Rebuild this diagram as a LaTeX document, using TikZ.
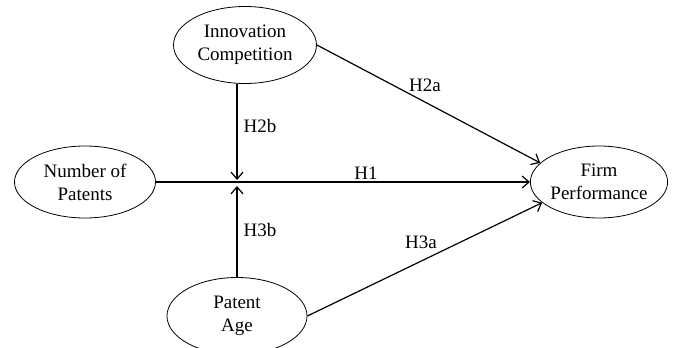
\documentclass[tikz,border=0pt]{standalone}
\usepackage{fontspec}
\setmainfont{Liberation Serif}
\usetikzlibrary{arrows.meta,shapes.geometric}

\begin{document}
\begin{tikzpicture}[
  x=1pt, y=-1pt,
  every node/.style={font=\fontsize{19}{23}\selectfont},
  construct/.style={
    draw, ellipse, line width=0.8pt, align=center, inner sep=0pt
  },
  hyp/.style={inner sep=1pt},
  arr/.style={-{Straight Barb[length=7pt,width=12pt]}, line width=1.2pt}
]
  \useasboundingbox (0,0) rectangle (673,348);

  \node[construct, minimum width=143pt, minimum height=77pt] (innov) at (245,45)  {Innovation\\Competition};
  \node[construct, minimum width=141pt, minimum height=72pt] (nump)  at (85,182)  {Number of\\Patents};
  \node[construct, minimum width=135pt, minimum height=72pt] (firm)  at (599,182) {Firm\\Performance};
  \node[construct, minimum width=140pt, minimum height=77pt] (age)   at (237,316) {Patent\\Age};

  \coordinate (hubtop) at (237,180);
  \coordinate (hubbot) at (237,186);

  \draw[arr] (nump) -- (firm);
  \draw[arr] (innov.east) -- (firm.162);
  \draw[arr] (age.east) -- (firm.200);
  \draw[arr] (innov.south -| hubtop) -- (hubtop);
  \draw[arr] (age) -- (hubbot);

  \node[hyp] (h1)  at (366,173) {H1};
  \node[hyp] (h2a) at (425,85)  {H2a};
  \node[hyp] (h2b) at (260,126) {H2b};
  \node[hyp] (h3a) at (421,242) {H3a};
  \node[hyp] (h3b) at (260,230) {H3b};
\end{tikzpicture}
\end{document}
